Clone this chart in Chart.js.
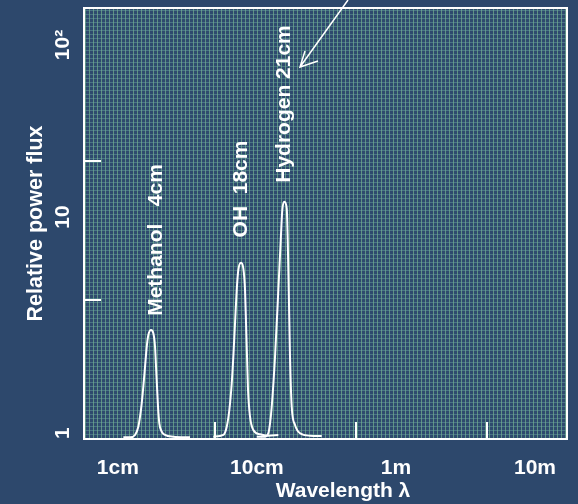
<!DOCTYPE html>
<html>
<head>
<meta charset="utf-8">
<script src="https://cdn.jsdelivr.net/npm/chart.js@4.4.1/dist/chart.umd.min.js"></script>
<style>
  html, body { margin: 0; padding: 0; background: #2d486c; }
  canvas { display: block; }
</style>
</head>
<body>
<canvas id="chart" width="578" height="504"></canvas>
<script>
"use strict";

// wavelength in cm, relative power flux
const methanolX = [1.095, 1.224, 1.329, 1.404, 1.444, 1.485, 1.525, 1.569, 1.614, 1.657, 1.733, 1.800, 1.851, 1.882, 1.913, 1.945, 1.988, 2.069, 2.185, 2.506, 3.305];
const methanolY = [1.028, 1.028, 1.069, 1.226, 1.447, 1.806, 2.378, 3.313, 4.613, 5.600, 6.084, 5.760, 4.613, 3.313, 2.378, 1.707, 1.297, 1.128, 1.069, 1.039, 1.028];

const ohX = [4.861, 5.736, 6.068, 6.335, 6.592, 6.768, 6.961, 7.160, 7.352, 7.688, 7.987, 8.215, 8.352, 8.492, 8.634, 8.924, 9.425, 10.53, 12.08, 14.26];
const ohY = [1.039, 1.069, 1.226, 1.617, 2.516, 3.909, 6.799, 11.80, 16.44, 18.55, 16.91, 11.80, 6.799, 3.909, 2.252, 1.447, 1.161, 1.081, 1.056, 1.069];

const hydrogenX = [9.970, 11.44, 12.08, 12.43, 12.78, 13.50, 14.26, 14.84, 15.23, 15.75, 16.39, 16.66, 16.94, 17.30, 17.80, 18.80, 20.42, 24.10, 29.25];
const hydrogenY = [1.039, 1.039, 1.099, 1.297, 1.707, 3.909, 11.80, 27.02, 44.41, 50.96, 45.67, 27.02, 11.80, 3.909, 1.707, 1.261, 1.099, 1.056, 1.051];

const xTickValues = [1, 10, 100, 1000];
const xTickLabels = ["1cm", "10cm", "1m", "10m"];
const yTickValues = [1.1, 39.5, 683];
const yTickLabels = ["1", "10", "10²"];
const xMarks = [5, 52, 450];
const yMarks = [10, 100];

const FONT = '"Liberation Sans", Arial, Helvetica, sans-serif';
const BG = "#2d486c";

const toPoints = (xs, ys) => xs.map((x, i) => ({ x, y: ys[i] }));

function gridPattern(ctx) {
  const c = document.createElement("canvas");
  c.width = 4; c.height = 4;
  const g = c.getContext("2d");
  g.fillStyle = "#2e4a6e";
  g.fillRect(0, 0, 4, 4);
  g.fillStyle = "rgba(135,205,150,0.55)";
  g.fillRect(1, 0, 1, 4);
  g.fillStyle = "rgba(115,175,165,0.42)";
  g.fillRect(0, 2, 4, 1);
  return ctx.createPattern(c, "repeat");
}

const backdrop = {
  id: "backdrop",
  beforeDraw(chart) {
    const { ctx, chartArea: a } = chart;
    ctx.save();
    ctx.fillStyle = BG;
    ctx.fillRect(0, 0, chart.width, chart.height);
    ctx.fillStyle = gridPattern(ctx);
    ctx.fillRect(a.left, a.top, a.right - a.left, a.bottom - a.top);
    ctx.restore();
  },
};

const overlay = {
  id: "overlay",
  afterDraw(chart) {
    const { ctx, chartArea: a, scales: { x, y } } = chart;
    ctx.save();
    ctx.strokeStyle = "#fff";
    ctx.lineWidth = 2;
    ctx.strokeRect(a.left, a.top, a.right - a.left, a.bottom - a.top);

    // inward tick marks
    ctx.beginPath();
    for (const v of xMarks) {
      const px = Math.round(x.getPixelForValue(v));
      ctx.moveTo(px, a.bottom);
      ctx.lineTo(px, a.bottom - 17);
    }
    for (const v of yMarks) {
      const py = Math.round(y.getPixelForValue(v));
      ctx.moveTo(a.left, py);
      ctx.lineTo(a.left + 17, py);
    }
    ctx.stroke();

    // line labels, rotated
    ctx.fillStyle = "#fff";
    ctx.font = `bold 21px ${FONT}`;
    ctx.textAlign = "center";
    ctx.textBaseline = "alphabetic";
    const notes = [["Methanol   4cm", 161.5, 240], ["OH  18cm", 246.5, 189], ["Hydrogen 21cm", 289.5, 104]];
    for (const [t, bx, cy] of notes) {
      ctx.save();
      ctx.translate(bx, cy);
      ctx.rotate(-Math.PI / 2);
      ctx.fillText(t, 0, 0);
      ctx.restore();
    }

    // arrow to the 21cm line
    ctx.lineWidth = 1.5;
    ctx.beginPath();
    ctx.moveTo(348, 0);
    ctx.lineTo(300, 67);
    ctx.moveTo(305, 51);
    ctx.lineTo(300, 67);
    ctx.lineTo(318, 61);
    ctx.stroke();

    // x title
    ctx.font = `bold 21px ${FONT}`;
    ctx.fillText("Wavelength λ", 343, 497);
    ctx.restore();
  },
};

const line = (pts) => ({
  data: pts,
  showLine: true,
  borderColor: "#ffffff",
  borderWidth: 2,
  pointRadius: 0,
  cubicInterpolationMode: "monotone",
});

new Chart(document.getElementById("chart"), {
  type: "scatter",
  data: {
    datasets: [
      line(toPoints(methanolX, methanolY)),
      line(toPoints(ohX, ohY)),
      line(toPoints(hydrogenX, hydrogenY)),
    ],
  },
  options: {
    responsive: false,
    animation: false,
    layout: { padding: { left: 0, right: 11, top: 8, bottom: 0 } },
    plugins: { legend: { display: false }, tooltip: { enabled: false } },
    scales: {
      x: {
        type: "logarithmic",
        min: 0.571,
        max: 1698,
        afterBuildTicks: (s) => { s.ticks = xTickValues.map((value) => ({ value })); },
        afterFit: (s) => { s.height = 65; s.paddingLeft = 0; s.paddingRight = 0; },
        grid: { display: false, drawTicks: false },
        border: { display: false },
        ticks: {
          autoSkip: false,
          maxRotation: 0,
          padding: 17,
          color: "#fff",
          font: { family: FONT, size: 21, weight: "bold" },
          callback: (v, i) => xTickLabels[i],
        },
      },
      y: {
        type: "logarithmic",
        min: 1,
        max: 1261,
        afterBuildTicks: (s) => { s.ticks = yTickValues.map((value) => ({ value })); },
        afterFit: (s) => { s.width = 84; s.paddingTop = 0; s.paddingBottom = 0; },
        grid: { display: false, drawTicks: false },
        border: { display: false },
        title: {
          display: true,
          text: "Relative power flux",
          color: "#fff",
          font: { family: FONT, size: 21.5, weight: "bold" },
          padding: { top: 23, bottom: 0 },
        },
        ticks: {
          autoSkip: false,
          minRotation: 90,
          maxRotation: 90,
          crossAlign: "center",
          padding: 6,
          color: "#fff",
          font: { family: FONT, size: 21, weight: "bold" },
          callback: (v, i) => yTickLabels[i],
        },
      },
    },
  },
  plugins: [backdrop, overlay],
});
</script>
</body>
</html>
